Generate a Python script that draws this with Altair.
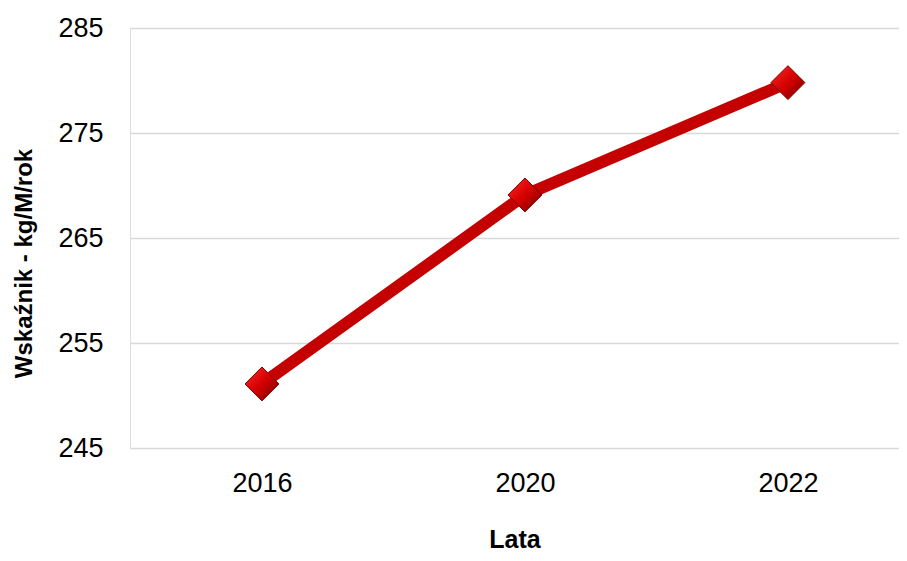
import altair as alt
import pandas as pd

years = ["2016", "2020", "2022"]
values = [251.1, 269.1, 279.8]
y_ticks = [245, 255, 265, 275, 285]

df = pd.DataFrame({"Lata": years, "v": values})

FONT = "Liberation Sans Narrow, Arial Narrow, Liberation Sans, Arial, sans-serif"

xenc = alt.X(
    "Lata:N",
    sort=years,
    scale=alt.Scale(type="point", padding=0.462, align=0.543),
    axis=alt.Axis(
        title="Lata",
        labelAngle=0,
        labelFont=FONT,
        labelFontSize=27,
        labelColor="#000000",
        labelPadding=22,
        domain=False,
        ticks=False,
        grid=False,
        titleFont=FONT,
        titleFontSize=25,
        titleFontWeight="bold",
        titleColor="#000000",
        titleBaseline="alphabetic",
        titleY=99,
    ),
)
yenc = alt.Y(
    "v:Q",
    scale=alt.Scale(domain=[245, 285], nice=False, zero=False),
    axis=alt.Axis(
        title="Wskaźnik - kg/M/rok",
        values=y_ticks,
        labelFont=FONT,
        labelFontSize=27,
        labelColor="#000000",
        labelPadding=27,
        domain=False,
        ticks=False,
        grid=True,
        gridColor="#d9d9d9",
        gridWidth=1.5,
        titleFont=FONT,
        titleFontSize=24,
        titleFontWeight="bold",
        titleColor="#000000",
        titleAngle=-90,
        titleAlign="center",
        titleBaseline="middle",
        titleX=-106,
        titleY=235,
    ),
)

line = alt.Chart(df).mark_line(color="#c40000", strokeWidth=12).encode(x=xenc, y=yenc)

grad = {
    "gradient": "linear",
    "x1": 0, "y1": 0, "x2": 1, "y2": 1,
    "stops": [
        {"offset": 0, "color": "#ff2a2a"},
        {"offset": 0.5, "color": "#d40000"},
        {"offset": 1, "color": "#6e0000"},
    ],
}
points = alt.Chart(df).mark_point(
    shape="diamond", filled=True, size=1150, fill=grad, stroke="#7a0000", strokeWidth=1, opacity=1
).encode(x=xenc, y=yenc)

chart = (
    alt.layer(line, points)
    .properties(
        width=769,
        height=420,
        autosize=alt.AutoSizeParams(type="none"),
        padding={"left": 122, "top": 20, "right": 0, "bottom": 105},
    )
    .configure_view(stroke=None)
    .configure(background="white")
)

chart.save("out.html", embed_options={"renderer": "svg", "actions": False})
